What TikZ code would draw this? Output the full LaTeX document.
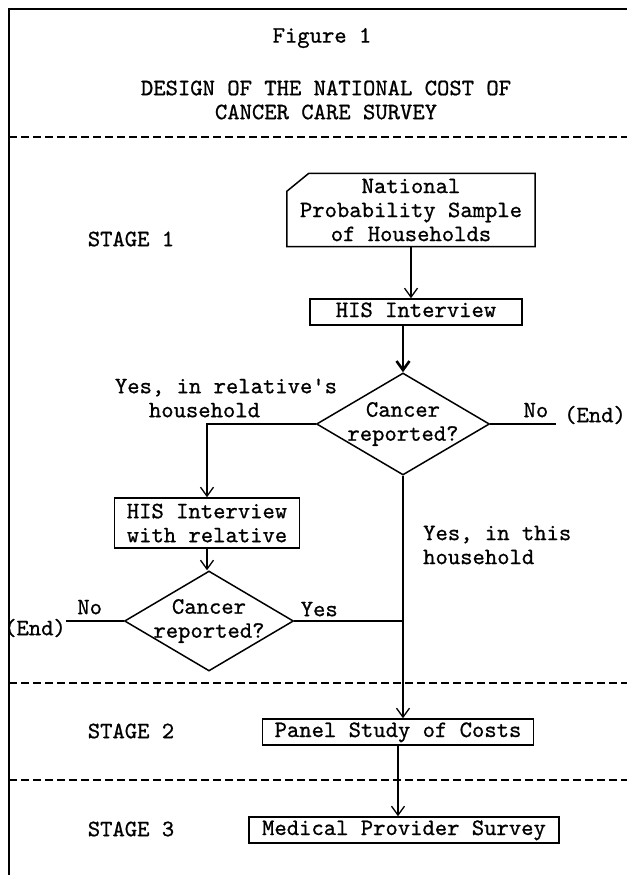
\documentclass[tikz,border=0pt]{standalone}
\usepackage{fontspec}
\newfontfamily\typer{lmmono10-regular.otf}[FakeBold=0.8]
\usetikzlibrary{arrows.meta,shapes.geometric}
\tikzset{
  txt/.style={font={\typer\fontsize{23.5}{24}\selectfont}, align=center, inner sep=0pt},
  box/.style={txt, draw, line width=1.5pt, inner xsep=12pt, inner ysep=3pt,
    text height=15pt, text depth=5pt},
  multibox/.style={txt, draw, line width=1.5pt, inner sep=2pt},
  decision/.style={diamond, draw, line width=1.5pt, inner sep=0pt,
    minimum width=173pt, minimum height=102pt},
  arr/.style={line width=1.3pt, -{Straight Barb[length=9pt,width=13pt]}},
  link/.style={line width=1.3pt},
  sep/.style={line width=1.5pt, dash pattern=on 8pt off 4pt},
}
\begin{document}
\begin{tikzpicture}[x=1pt, y=-1pt]
  \useasboundingbox (0,0) rectangle (627,875);
  % frame and dashed stage separators
  \draw[line width=1.5pt] (9,875) -- (9,9) -- (627,9);
  \foreach \y in {137,683,780}
    \draw[sep] (9,\y) -- (627,\y);
  % heading
  \node[txt] (fig) at (322,38) {Figure 1};
  \node[txt] (heading) at (326,100) {DESIGN OF THE NATIONAL COST OF\\CANCER CARE SURVEY};
  % stage labels
  \foreach [count=\i] \y in {239,731,829}
    \node[txt] (stage\i) at (131,\y) {STAGE \i};

  % stage 1
  \node[txt, minimum width=248pt, minimum height=73pt] (sample) at (411,210)
    {National\\Probability Sample\\of Households};
  \draw[line width=1.5pt] ([xshift=22pt]sample.north west) -- (sample.north east)
    -- (sample.south east) -- (sample.south west)
    -- ([yshift=-18pt]sample.north west) -- cycle;
  \node[box, minimum width=212pt] (his) at (416,312) {HIS Interview};
  \node[decision] (ask1) at (403,424) {};
  \node[txt] (ask1txt) at (ask1) {Cancer\\reported?};
  \node[txt] (end1) at (595,415) {(End)};
  \node[txt, align=left] (relyes) at (226,398) {Yes, in relative's\\\hspace*{34pt}household};
  \node[multibox, minimum width=185pt, minimum height=50pt] (rel) at (207,523)
    {HIS Interview\\with relative};
  \node[txt, align=left, anchor=west] (hereyes) at (423,545) {Yes, in this\\household};
  \node[decision, minimum width=169pt, minimum height=100pt] (ask2) at (209,621) {};
  \node[txt] (ask2txt) at (ask2) {Cancer\\reported?};
  \node[txt] (end2) at (35,628) {(End)};
  \coordinate (join) at (ask1.south |- ask2.east);

  % stages 2 and 3
  \node[box] (panel) at (398,732) {Panel Study of Costs};
  \node[box, inner xsep=13pt] (provider) at (404,830) {Medical Provider Survey};

  % connectors
  \draw[arr] (sample.south) -- (sample.south |- his.north);
  \draw[arr, line width=2.6pt] (ask1.north |- his.south) -- (ask1.north);
  \draw[link, shorten >=8pt] (ask1.east) -- node[txt, above, inner sep=6pt, pos=0.62] (no1) {No}
    (ask1.east -| end1.west);
  \draw[arr] (ask1.west) -| (rel.north);
  \draw[arr] (rel.south) -- (rel.south |- ask2.north);
  \draw[link] (ask2.west) -- node[txt, above, inner sep=6pt, pos=0.59] (no2) {No}
    (ask2.west -| end2.east);
  \draw[link] (ask2.east) -- node[txt, above, inner sep=4pt, pos=0.23] (yes2) {Yes} (join);
  \draw[arr] (ask1.south) -- (ask1.south |- panel.north);
  \draw[arr] (panel.south) -- (panel.south |- provider.north);
\end{tikzpicture}
\end{document}
